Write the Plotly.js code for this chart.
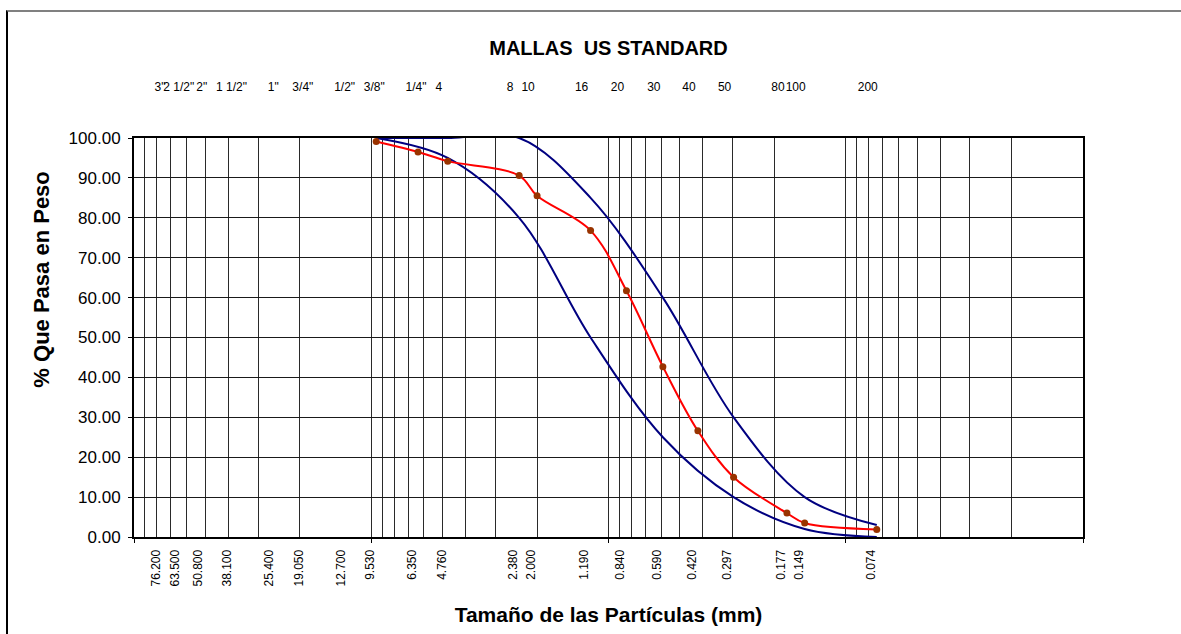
<!DOCTYPE html>
<html>
<head>
<meta charset="utf-8">
<script src="https://cdn.plot.ly/plotly-3.0.1.min.js"></script>
<style>
  html, body { margin: 0; padding: 0; background: #fff; }
  #wrap { position: relative; width: 1181px; height: 634px; overflow: hidden; }
  #chart { position: absolute; left: 0; top: 0; width: 1181px; height: 634px; }
  #frame { position: absolute; left: 6px; top: 10px; width: 1300px; height: 800px;
           border-top: 2px solid #808080; border-left: 2px solid #000; pointer-events: none; }
</style>
</head>
<body>
<div id="wrap">
  <div id="chart"></div>
  <div id="frame"></div>
</div>
<script>
// ---- data ----
const sieveSizes = [76.2, 63.5, 50.8, 38.1, 25.4, 19.05, 12.7, 9.53, 6.35, 4.76, 2.38, 2.0, 1.19, 0.84, 0.59, 0.42, 0.297, 0.177, 0.149, 0.074];
const sizeLabels = ['76.200', '63.500', '50.800', '38.100', '25.400', '19.050', '12.700', '9.530', '6.350', '4.760', '2.380', '2.000', '1.190', '0.840', '0.590', '0.420', '0.297', '0.177', '0.149', '0.074'];
const meshLabels = ['3"', '2 1/2"', '2"', '1 1/2"', '1"', '3/4"', '1/2"', '3/8"', '1/4"', '4', '8', '10', '16', '20', '30', '40', '50', '80', '100', '200'];

const sampleSizes = [9.53, 6.35, 4.76, 2.38, 2.0, 1.19, 0.84, 0.59, 0.42, 0.297, 0.177, 0.149, 0.074];
const samplePassing = [99.1, 96.5, 94.2, 90.6, 85.5, 76.8, 61.7, 42.7, 26.6, 15.0, 6.0, 3.5, 1.9];

const limitSizes = [9.53, 4.76, 2.38, 1.19, 0.59, 0.297, 0.149, 0.074];
const upperLimit = [100, 100, 100, 85, 60, 30, 10, 3];
const lowerLimit = [100, 95, 80, 50, 25, 10, 2, 0];

const decades = [100, 10, 1, 0.1, 0.01];

// log grid positions (1..9 x each decade)
const gridVals = [];
decades.slice(1).forEach(d => { for (let k = 1; k <= 9; k++) gridVals.push(+(d * k).toPrecision(6)); });

// split the top labels: inch openings and sieve numbers
const isInch = meshLabels.map(t => t.indexOf('"') >= 0);
const inchVals = sieveSizes.filter((v, i) => isInch[i]);
const inchText = meshLabels.filter((t, i) => isInch[i]);
const numVals = sieveSizes.filter((v, i) => !isInch[i]);
const numText = meshLabels.filter((t, i) => !isInch[i]);

const FONT = 'Arial, "Liberation Sans", sans-serif';

const carrier = ax => ({ x: [decades[0], decades[decades.length - 1]], y: [null, null], xaxis: ax,
                         mode: 'lines', showlegend: false, hoverinfo: 'skip' });

const traces = [
  { x: limitSizes, y: lowerLimit, mode: 'lines', line: { color: '#000080', width: 2, shape: 'spline' },
    hoverinfo: 'x+y', showlegend: false },
  { x: limitSizes, y: upperLimit, mode: 'lines', line: { color: '#000080', width: 2, shape: 'spline' },
    hoverinfo: 'x+y', showlegend: false },
  { x: sampleSizes, y: samplePassing, mode: 'lines+markers',
    line: { color: '#FF0000', width: 2, shape: 'spline' },
    marker: { color: '#993300', size: 7 }, cliponaxis: false, showlegend: false },
  carrier('x2'), carrier('x3'), carrier('x4')
];

const topAxis = (vals, text, shift) => ({
  type: 'log', range: [2, -2], autorange: false, overlaying: 'x', side: 'top',
  tickmode: 'array', tickvals: vals, ticktext: text,
  tickangle: 0, ticks: '', tickfont: { family: FONT, size: 12, color: '#000' },
  ticklabelshift: shift, ticklabelstandoff: 44,
  showgrid: false, zeroline: false, showline: false
});

const layout = {
  width: 1181, height: 634,
  margin: { l: 134, r: 98, t: 138, b: 97 },
  paper_bgcolor: '#ffffff', plot_bgcolor: '#ffffff',
  font: { family: FONT, color: '#000' },
  showlegend: false,
  title: { text: '<b>MALLAS  US STANDARD</b>', font: { family: FONT, size: 20, color: '#000' },
           x: 0.5, xref: 'paper', xanchor: 'center', y: 1 - 48 / 634, yref: 'container', yanchor: 'middle' },
  xaxis: {
    type: 'log', range: [2, -2], autorange: false,
    tickmode: 'array', tickvals: sieveSizes, ticktext: sizeLabels,
    tickangle: -90, ticks: '', tickfont: { family: FONT, size: 12, color: '#000' },
    ticklabelshift: 6, ticklabelstandoff: 6,
    showgrid: false, zeroline: false,
    showline: true, linecolor: '#000', linewidth: 2, mirror: true,
    minor: { tickmode: 'array', tickvals: gridVals, showgrid: true, gridcolor: '#2a2a2a', gridwidth: 1, ticks: '' },
    title: { text: '<b>Tamaño de las Partículas (mm)</b>', font: { family: FONT, size: 21, color: '#000' }, standoff: 22 }
  },
  xaxis2: topAxis(inchVals, inchText, 2),
  xaxis4: topAxis(numVals, numText, 9),
  xaxis3: {
    type: 'log', range: [2, -2], autorange: false, overlaying: 'x', side: 'bottom',
    tickmode: 'array', tickvals: decades, ticktext: decades.map(() => ''),
    ticks: 'outside', ticklen: 5, tickwidth: 1, tickcolor: '#000',
    showticklabels: false, showgrid: false, zeroline: false, showline: false
  },
  yaxis: {
    range: [0, 100], autorange: false, tickmode: 'linear', tick0: 0, dtick: 10, tickformat: '.2f',
    ticks: 'outside', ticklen: 4, tickcolor: '#000', tickwidth: 1,
    tickfont: { family: FONT, size: 17, color: '#000' }, ticklabelstandoff: 4,
    showgrid: true, gridcolor: '#1a1a1a', gridwidth: 1, zeroline: false,
    showline: true, linecolor: '#000', linewidth: 2, mirror: true
  },
  annotations: [
    { text: '<b>% Que Pasa en Peso</b>', textangle: -90, showarrow: false,
      xref: 'paper', x: 0, xshift: -92, yref: 'paper', y: 0.645, xanchor: 'center', yanchor: 'middle',
      font: { family: FONT, size: 22, color: '#000' } }
  ]
};

Plotly.newPlot('chart', traces, layout, { displayModeBar: false, staticPlot: true });
</script>
</body>
</html>
